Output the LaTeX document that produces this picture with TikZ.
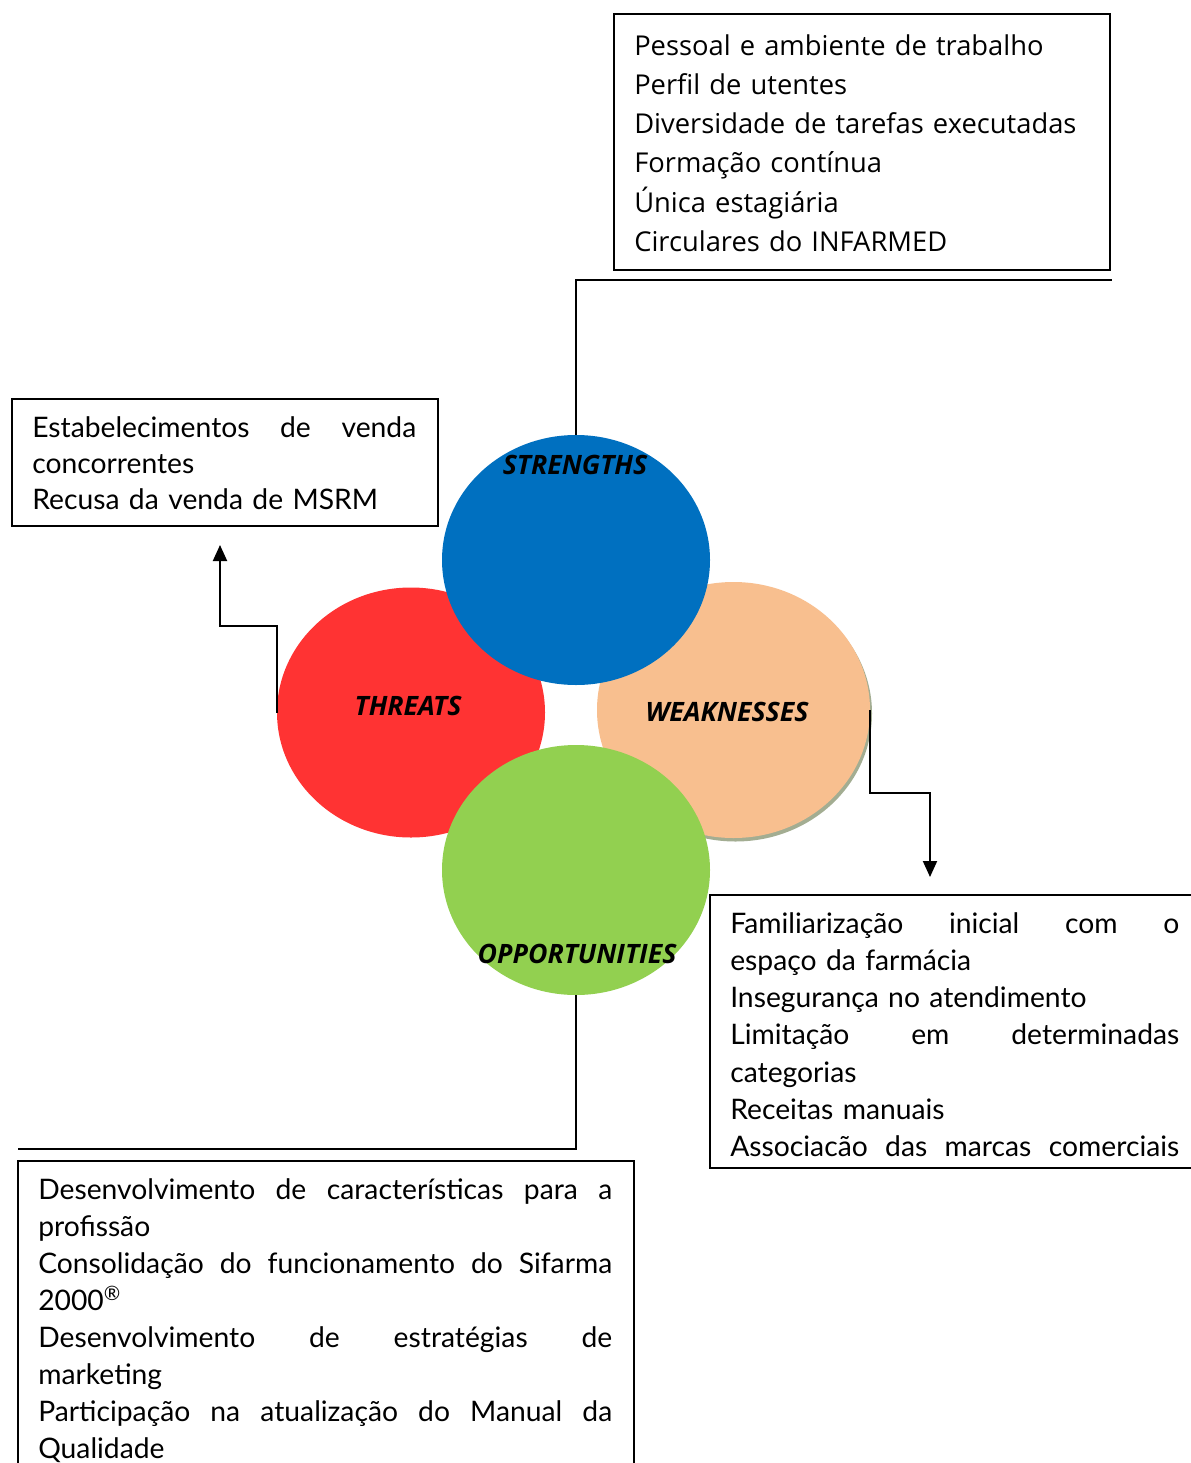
\documentclass[tikz,border=0pt]{standalone}
\usepackage{fontspec}
\setmainfont{Lato}
\newfontfamily\segfont{Open Sans}
\usetikzlibrary{shapes.geometric,arrows.meta}
\definecolor{swblue}{HTML}{0070C0}
\definecolor{swred}{HTML}{FF3333}
\definecolor{swpeach}{HTML}{F8BF8F}
\definecolor{swgreen}{HTML}{92D050}
\definecolor{swshadow}{HTML}{A3AD92}
\newcommand{\fl}[2]{{\spaceskip=0pt\xspaceskip=0pt\makebox[#1][s]{#2}}}
\begin{document}
\begin{tikzpicture}[x=0.75pt,y=-0.75pt,
  circ/.style={ellipse, inner sep=0, minimum width=201pt, minimum height=187.5pt},
  pcirc/.style={ellipse, inner sep=0, minimum width=204.75pt, minimum height=192pt},
  lbl/.style={font=\segfont\bfseries\itshape\fontsize{20}{24}\selectfont, inner sep=0},
  box/.style={draw, line width=1.2pt, inner sep=0, anchor=north west},
  txt/.style={inner sep=0, anchor=north west, align=left},
  gill/.style={font=\fontsize{21.2}{#1}\selectfont},
  conn/.style={line width=1.5pt},
  arr/.style={line width=1.5pt, -{Triangle[width=10.5pt,length=12pt]}}
]
\useasboundingbox (0,0) rectangle (1190,1463);
\fill[white] (0,0) rectangle (1190,1463);

% free ends of connectors
\coordinate (strEnd) at (1112,280);
\coordinate (thrTip) at (220,545);
\coordinate (wkTip) at (930,877);
\coordinate (oppEnd) at (18,1149);

% circle centres
\path (411,712.5) coordinate (thrC) (733.5,710) coordinate (wkC)
      (576,560) coordinate (strC) (576,870) coordinate (oppC);

% circles
\node[circ, fill=swred] (thr) at (thrC) {};
\node[pcirc, fill=swshadow] (wkS) at (735.5,713.5) {};
\node[pcirc, fill=swpeach] (wk) at (wkC) {};
\node[circ, fill=swblue] (str) at (strC) {};
\node[circ, fill=swgreen] (opp) at (oppC) {};

% connectors
\draw[conn] (str.north) |- (strEnd);
\draw[arr] (thr.west) -- ++(0,-86.5) -| (thrTip);
\draw[arr] (wk.east) -- ++(0,83) -| (wkTip);
\draw[conn] (opp.south) |- (oppEnd);

% circle labels
\node[lbl] (strL) at (575,465) {STRENGTHS};
\node[lbl] (thrL) at (408,706) {THREATS};
\node[lbl] (wkL) at (727,712) {WEAKNESSES};
\node[lbl] (oppL) at (577,954) {OPPORTUNITIES};

% boxes
\node[box, minimum width=372pt, minimum height=192pt] (sBox) at (613,13) {};
\node[box, minimum width=319.5pt, minimum height=95.25pt] (tBox) at (11,398) {};
\node[box, minimum width=375pt, minimum height=204.75pt] (wBox) at (709,894) {};
\node[box, minimum width=462pt, minimum height=240pt] (oBox) at (17,1160) {};

% box texts
\node[txt, text width=345pt, font=\segfont\fontsize{20.5}{29.4}\selectfont] (sTxt) at (634,27.7)
 {\rule{0pt}{20.5pt}Pessoal e ambiente de trabalho\\Perfil de utentes\\Diversidade de tarefas executadas\\Formação contínua\\Única estagiária\\Circulares do INFARMED};

\node[txt, text width=288pt, gill=27] (tTxt) at (32,409)
 {\rule{0pt}{21.2pt}\fl{288pt}{Estabelecimentos de venda}\\concorrentes\\Recusa da venda de MSRM};

\node[txt, text width=336.75pt, gill=27.9] (wTxt) at (730,904.7)
 {\rule{0pt}{21.2pt}\fl{336.75pt}{Familiarização inicial com o}\\espaço da farmácia\\Insegurança no atendimento\\\fl{336.75pt}{Limitação em determinadas}\\categorias\\Receitas manuais\\\fl{336.75pt}{Associacão das marcas comerciais}};

\node[txt, text width=430.5pt, gill=27.75] (oTxt) at (38,1170.7)
 {\rule{0pt}{21.2pt}\fl{430.5pt}{Desenvolvimento de características para a}\\profissão\\\fl{430.5pt}{Consolidação do funcionamento do Sifarma}\\2000\textsuperscript{®}\\\fl{430.5pt}{Desenvolvimento de estratégias de}\\marketing\\\fl{430.5pt}{Participação na atualização do Manual da}\\Qualidade};
\end{tikzpicture}
\end{document}
